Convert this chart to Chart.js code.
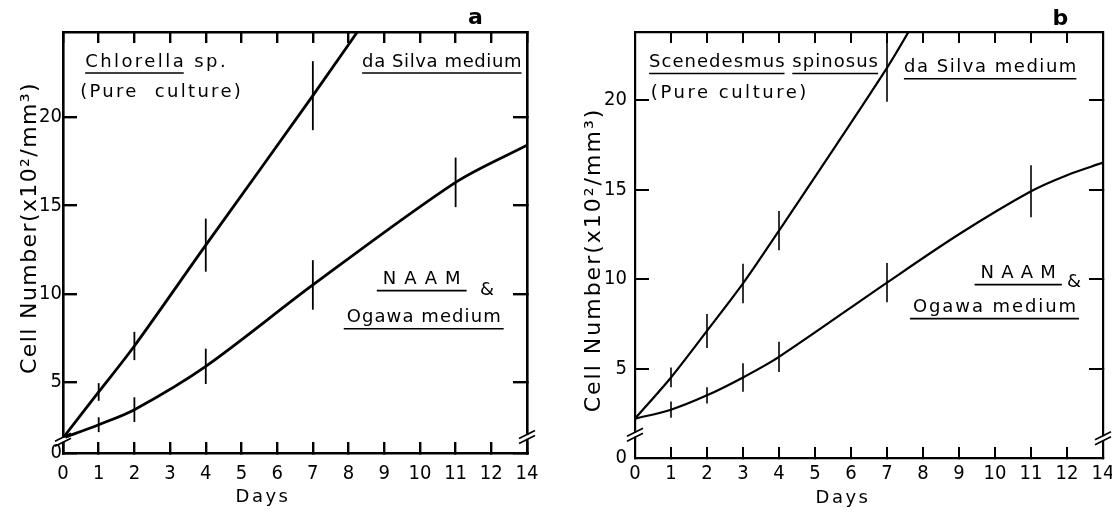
<!DOCTYPE html>
<html>
<head>
<meta charset="utf-8">
<script src="https://cdn.jsdelivr.net/npm/chart.js@4.4.1/dist/chart.umd.min.js"></script>
<style>
  html, body { margin: 0; padding: 0; background: #fff; }
  #wrap { display: flex; width: 1112px; height: 513px; }
  canvas { display: block; }
</style>
</head>
<body>
<div id="wrap">
  <canvas id="chartA" width="556" height="513"></canvas>
  <canvas id="chartB" width="556" height="513"></canvas>
</div>
<script>
/* ------------------------------
   Data
------------------------------ */

// day axis is broken after 12: the last slot carries day 14
const dayTickLabels = ['0', '1', '2', '3', '4', '5', '6', '7', '8', '9', '10', '11', '12', '14'];
const cellTickLabels = [0, 5, 10, 15, 20];

// (a) Chlorella sp.
const daysSilvaA = [0, 1, 2, 4, 7, 9];
const cellsSilvaA = [1.85, 4.45, 7.05, 12.75, 21.2, 27.0];
const errSilvaA = [null, 0.5, 0.8, 1.5, 1.95, null];

const daysNaamA = [0, 1, 2, 4, 7, 11, 14];
const cellsNaamA = [1.85, 2.6, 3.45, 5.9, 10.5, 16.3, 18.4];
const errNaamA = [null, 0.42, 0.7, 1.0, 1.4, 1.4, null];

// (b) Scenedesmus spinosus
const daysSilvaB = [0, 1, 2, 3, 4, 7, 8];
const cellsSilvaB = [2.2, 4.5, 7.1, 9.75, 12.7, 21.8, 25.2];
const errSilvaB = [null, 0.55, 0.95, 1.1, 1.1, 1.9, null];

const daysNaamB = [0, 1, 2, 3, 4, 7, 9, 11, 12, 14];
const cellsNaamB = [2.2, 2.7, 3.5, 4.5, 5.65, 9.8, 12.5, 14.9, 15.8, 16.5];
const errNaamB = [null, 0.45, 0.45, 0.8, 0.85, 1.1, null, 1.45, null, null];

/* ------------------------------
   Helpers
------------------------------ */

// position of a day on the broken axis (12..14 squeezed into one slot)
const dayPos = d => (d <= 12 ? d : 12 + (d - 12) / 2);

function toPoints(days, cells) {
  return days.map((d, i) => ({ x: dayPos(d), y: cells[i] }));
}

const tickFont = { family: '"Liberation Sans Narrow", "DejaVu Sans Condensed", sans-serif', size: 20 };
const noteFont = '18px "DejaVu Sans", sans-serif';

// error bars, axis breaks, in-plot notes and axis titles
const panelDecor = {
  id: 'panelDecor',
  afterDraw(chart, args, o) {
    const { ctx, chartArea: area, scales: { x, y } } = chart;
    ctx.save();
    ctx.strokeStyle = '#000';
    ctx.fillStyle = '#000';

    // vertical error bars
    ctx.lineWidth = o.errWidth;
    chart.data.datasets.forEach(ds => {
      if (!ds.errors) return;
      ds.data.forEach((p, i) => {
        const e = ds.errors[i];
        if (e == null) return;
        const px = x.getPixelForValue(p.x);
        ctx.beginPath();
        ctx.moveTo(px, y.getPixelForValue(p.y - e));
        ctx.lineTo(px, y.getPixelForValue(p.y + e));
        ctx.stroke();
      });
    });

    // "//" break marks on both vertical axes
    o.breaks.forEach(b => {
      const bx = b.side === 'left' ? area.left : area.right;
      const by = y.getPixelForValue(b.y);
      ctx.fillStyle = '#fff';
      ctx.fillRect(bx - 3, by - 2, 6, 4);
      ctx.lineWidth = 1.6;
      [-2.5, 2.5].forEach(off => {
        ctx.beginPath();
        ctx.moveTo(bx - 8, by + off + 4);
        ctx.lineTo(bx + 8, by + off - 4);
        ctx.stroke();
      });
    });
    ctx.fillStyle = '#000';

    // notes inside the plot, stretched to their set width
    ctx.textBaseline = 'middle';
    ctx.textAlign = 'left';
    o.notes.forEach(n => {
      ctx.font = n.font || noteFont;
      ctx.letterSpacing = '0px';
      const full = n.parts.map(p => p.t).join('');
      const spacing = n.w ? (n.w - ctx.measureText(full).width) / full.length : 0;
      ctx.letterSpacing = spacing + 'px';
      let cx = x.getPixelForValue(n.x);
      const cy = y.getPixelForValue(n.y);
      n.parts.forEach(p => {
        const w = ctx.measureText(p.t).width;
        ctx.fillText(p.t, cx, cy);
        if (p.u) {
          ctx.lineWidth = 1.6;
          ctx.beginPath();
          ctx.moveTo(cx - (p.ext || 0), cy + 11);
          ctx.lineTo(cx + w - spacing + (p.ext || 0), cy + 11);
          ctx.stroke();
        }
        cx += w;
      });
    });

    // axis titles
    ctx.textAlign = 'center';
    ctx.font = o.yTitle.font;
    ctx.letterSpacing = o.yTitle.spacing + 'px';
    ctx.save();
    ctx.translate(o.yTitle.x, o.yTitle.y);
    ctx.rotate(-Math.PI / 2);
    ctx.fillText('Cell Number(x10²/mm³)', 0, 0);
    ctx.restore();
    ctx.font = o.xTitle.font;
    ctx.letterSpacing = o.xTitle.spacing + 'px';
    ctx.fillText('Days', o.xTitle.x, o.xTitle.y);

    ctx.restore();
  }
};

function axisPair(pos, extra) {
  return Object.assign({
    type: 'linear',
    position: pos,
    border: { color: '#000', width: extra.borderWidth },
    grid: {
      drawOnChartArea: false,
      color: '#000',
      lineWidth: extra.tickWidth,
      tickLength: extra.tickLength
    },
    ticks: {
      display: extra.labels,
      color: '#000',
      font: tickFont,
      autoSkip: false,
      maxRotation: 0,
      padding: extra.padding || 0
    }
  }, extra.more);
}

function makePanel(canvasId, p) {
  const dayAxis = (pos, labels) => axisPair(pos, {
    borderWidth: p.axisWidth, tickWidth: p.tickWidth, tickLength: -11,
    labels, padding: p.xPad,
    more: {
      min: 0,
      max: dayTickLabels.length - 1,
      afterBuildTicks: s => { s.ticks = dayTickLabels.map((_, i) => ({ value: i })); },
      afterFit: s => {
        s.height = pos === 'bottom' ? p.bottomH : 0;
        s.paddingLeft = 0;
        s.paddingRight = 0;
      }
    }
  });
  // inward ticks: labels sit at right - (tickLength + padding)
  const cellAxis = (pos, labels) => axisPair(pos, {
    borderWidth: p.axisWidth, tickWidth: p.tickWidth, tickLength: -14,
    labels, padding: p.yPad,
    more: {
      min: p.yFloor,
      max: p.yTop,
      afterBuildTicks: s => {
        s.ticks = cellTickLabels.map(v => ({ value: Math.max(v, p.yFloor) }));
      },
      afterFit: s => {
        s.width = pos === 'left' ? p.leftW : 0;
        s.paddingTop = 0;
        s.paddingBottom = 0;
      }
    }
  });

  const x = dayAxis('bottom', true);
  x.ticks.callback = v => dayTickLabels[v];
  const y = cellAxis('left', true);
  y.ticks.callback = (v, i) => cellTickLabels[i];

  return new Chart(document.getElementById(canvasId), {
    type: 'line',
    data: {
      datasets: p.series.map(s => ({
        data: s.points,
        errors: s.errors,
        borderColor: '#000',
        borderWidth: p.lineWidth,
        pointRadius: 0,
        tension: 0.3,
        fill: false,
        clip: 0
      }))
    },
    options: {
      responsive: false,
      animation: false,
      events: [],
      layout: { padding: { top: 32, right: p.rightPad, left: 0, bottom: 0 } },
      scales: {
        x,
        xTop: dayAxis('top', false),
        y,
        yRight: cellAxis('right', false)
      },
      plugins: {
        legend: { display: false },
        tooltip: { enabled: false },
        panelDecor: p.decor
      }
    },
    plugins: [panelDecor]
  });
}

/* ------------------------------
   Panels
------------------------------ */

makePanel('chartA', {
  yFloor: 1.0, yTop: 24.8,
  leftW: 63, rightPad: 29, bottomH: 60,
  xPad: 20, yPad: 15,
  axisWidth: 2.6, tickWidth: 2.4, lineWidth: 2.8,
  series: [
    { points: toPoints(daysSilvaA, cellsSilvaA), errors: errSilvaA },
    { points: toPoints(daysNaamA, cellsNaamA), errors: errNaamA }
  ],
  decor: {
    errWidth: 1.8,
    breaks: [{ side: 'left', y: 1.75 }, { side: 'right', y: 1.9 }],
    notes: [
      { x: 0.62, y: 23.1, w: 143, parts: [{ t: 'Chlorella', u: true }, { t: ' sp.' }] },
      { x: 0.48, y: 21.4, w: 163, parts: [{ t: '(Pure  culture)' }] },
      { x: 8.38, y: 23.1, w: 160, parts: [{ t: 'da Silva medium', u: true }] },
      { x: 8.96, y: 10.8, w: 79, parts: [{ t: 'N A A M', u: true, ext: 6 }] },
      { x: 11.68, y: 10.2, parts: [{ t: '&' }] },
      { x: 7.95, y: 8.65, w: 155, parts: [{ t: 'Ogawa medium', u: true, ext: 3 }] },
      { x: 11.35, y: 25.6, font: 'bold 22px "DejaVu Sans", sans-serif', parts: [{ t: 'a' }] }
    ],
    yTitle: { x: 30, y: 228, font: '22px "DejaVu Sans", sans-serif', spacing: 1.4 },
    xTitle: { x: 263, y: 497, font: '18px "DejaVu Sans", sans-serif', spacing: 2.5 }
  }
});

makePanel('chartB', {
  yFloor: 0, yTop: 23.8,
  leftW: 79, rightPad: 9, bottomH: 55,
  xPad: 15, yPad: 22,
  axisWidth: 2.2, tickWidth: 2, lineWidth: 2.2,
  series: [
    { points: toPoints(daysSilvaB, cellsSilvaB), errors: errSilvaB },
    { points: toPoints(daysNaamB, cellsNaamB), errors: errNaamB }
  ],
  decor: {
    errWidth: 1.6,
    breaks: [{ side: 'left', y: 1.3 }, { side: 'right', y: 1.1 }],
    notes: [
      { x: 0.39, y: 22.1, w: 230, parts: [{ t: 'Scenedesmus', u: true }, { t: ' ' }, { t: 'spinosus', u: true }] },
      { x: 0.44, y: 20.4, w: 158, parts: [{ t: '(Pure culture)' }] },
      { x: 7.47, y: 21.8, w: 174, parts: [{ t: 'da Silva medium', u: true }] },
      { x: 9.6, y: 10.3, w: 76, parts: [{ t: 'N A A M', u: true, ext: 6 }] },
      { x: 12.0, y: 9.8, parts: [{ t: '&' }] },
      { x: 7.72, y: 8.4, w: 165, parts: [{ t: 'Ogawa medium', u: true, ext: 3 }] },
      { x: 11.6, y: 24.5, font: 'bold 22px "DejaVu Sans", sans-serif', parts: [{ t: 'b' }] }
    ],
    yTitle: { x: 38, y: 260, font: '22px "DejaVu Sans", sans-serif', spacing: 2 },
    xTitle: { x: 287, y: 498, font: '18px "DejaVu Sans", sans-serif', spacing: 2.5 }
  }
});
</script>
</body>
</html>
